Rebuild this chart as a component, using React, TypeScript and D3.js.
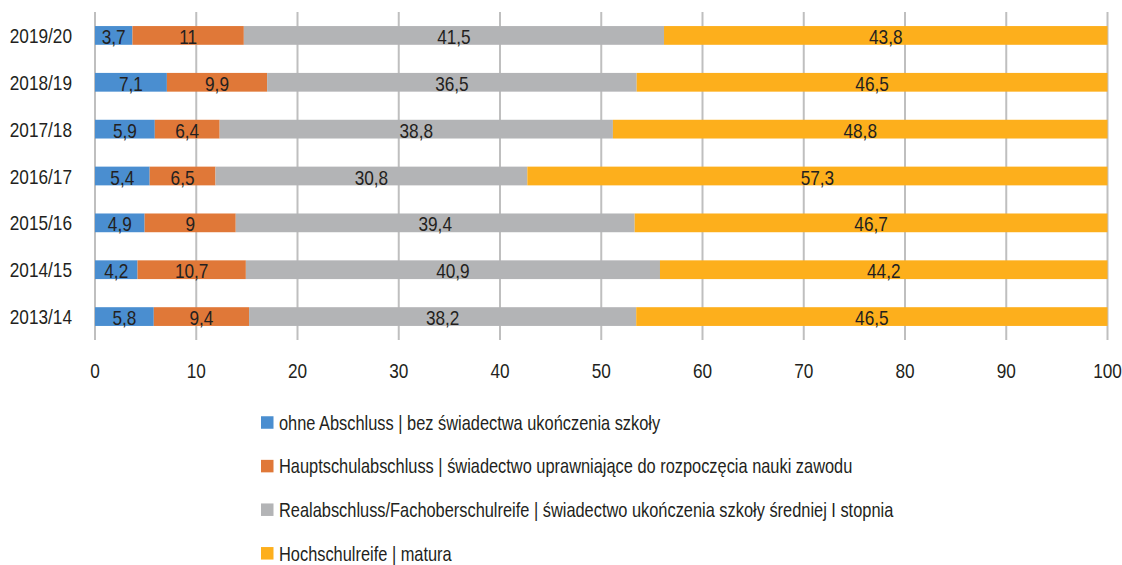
import React from "react";
import * as d3 from "d3";

const categories = ["2019/20", "2018/19", "2017/18", "2016/17", "2015/16", "2014/15", "2013/14"];
const ohneAbschluss = [3.7, 7.1, 5.9, 5.4, 4.9, 4.2, 5.8];
const hauptschul = [11, 9.9, 6.4, 6.5, 9, 10.7, 9.4];
const realabschluss = [41.5, 36.5, 38.8, 30.8, 39.4, 40.9, 38.2];
const hochschulreife = [43.8, 46.5, 48.8, 57.3, 46.7, 44.2, 46.5];
const seriesNames = [
  "ohne Abschluss | bez świadectwa ukończenia szkoły",
  "Hauptschulabschluss | świadectwo uprawniające do rozpoczęcia nauki zawodu",
  "Realabschluss/Fachoberschulreife | świadectwo ukończenia szkoły średniej I stopnia",
  "Hochschulreife | matura",
];
const seriesColors = ["#4A8ED0", "#E07838", "#B3B4B6", "#FDAF1C"];
const xTicks = [0, 10, 20, 30, 40, 50, 60, 70, 80, 90, 100];

const FONT = "'Liberation Sans', Arial, sans-serif";
const TEXT = "#231F20";
const SX = 0.82;

function CText(props: { x: number; y: number; anchor?: string; size: number; children: React.ReactNode }) {
  return (
    <text
      transform={`translate(${props.x},${props.y}) scale(${SX},1)`}
      dy="0.36em"
      textAnchor={props.anchor || "start"}
      fontSize={props.size}
      fill={TEXT}
    >
      {props.children}
    </text>
  );
}

export default function App() {
  const W = 1122, H = 565;
  const x = d3.scaleLinear().domain([0, 100]).range([95, 1107.5]);
  const y = d3.scaleBand().domain(categories).range([12, 340]).paddingInner(0.6).paddingOuter(0.3);
  const allSeries = [ohneAbschluss, hauptschul, realabschluss, hochschulreife];
  const rows = categories.map((c, i) => {
    const vals = allSeries.map((s) => s[i]);
    const total = d3.sum(vals);
    let acc = 0;
    return vals.map((v, k) => {
      const x0 = (acc / total) * 100;
      acc += v;
      const x1 = (acc / total) * 100;
      return { cat: c, k, v, x0, x1 };
    });
  });
  const fmt = (v: number) => String(v).replace(".", ",");
  return (
    <div style={{ position: "fixed", left: 0, top: 0, width: W, height: H, overflow: "hidden", background: "#fff" }}>
      <svg width={W} height={H} style={{ display: "block" }} fontFamily={FONT}>
        {xTicks.map((t) => (
          <line key={"g" + t} x1={x(t)} x2={x(t)} y1={12} y2={340} stroke="#BFBFBF" strokeWidth={2} />
        ))}
        {rows.map((segs) =>
          segs.map((s) => (
            <rect key={s.cat + s.k} x={x(s.x0)} width={x(s.x1) - x(s.x0)} y={y(s.cat)!} height={y.bandwidth()} fill={seriesColors[s.k]} />
          ))
        )}
        {rows.map((segs) =>
          segs.map((s) => (
            <CText key={"l" + s.cat + s.k} x={(x(s.x0) + x(s.x1)) / 2} y={y(s.cat)! + y.bandwidth() / 2 + 1} anchor="middle" size={21}>
              {fmt(s.v)}
            </CText>
          ))
        )}
        {categories.map((c) => (
          <CText key={"c" + c} x={72} y={y(c)! + y.bandwidth() / 2} anchor="end" size={21}>
            {c}
          </CText>
        ))}
        {xTicks.map((t) => (
          <CText key={"t" + t} x={x(t)} y={370} anchor="middle" size={21}>
            {t}
          </CText>
        ))}
        {seriesNames.map((n, i) => (
          <g key={"lg" + i} transform={`translate(261, ${422.5 + i * 43.6})`}>
            <rect x={0} y={-6.25} width={12.5} height={12.5} fill={seriesColors[i]} />
            <CText x={18} y={0} size={20}>
              {n}
            </CText>
          </g>
        ))}
      </svg>
    </div>
  );
}
